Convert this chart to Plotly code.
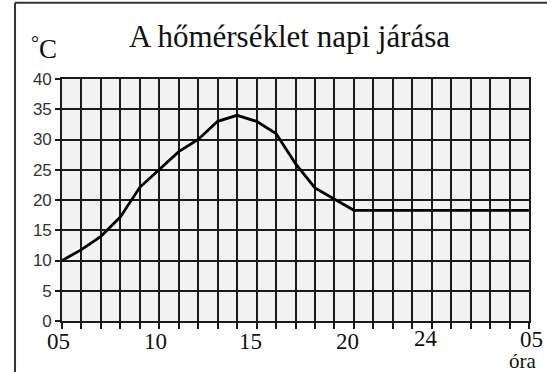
import plotly.graph_objects as go

# hourly temperature, 05 h to 05 h next day
hours = list(range(5, 30))
temps = [10, 11.8, 14, 17.2, 22.1, 25, 28, 30, 33, 34, 33, 31, 26, 22, 20.2,
         18.3, 18.3, 18.3, 18.3, 18.3, 18.3, 18.3, 18.3, 18.3, 18.3]

tick_hours = [5, 10, 15, 20, 24, 29]
tick_labels = ["05", "10", "15", "20", "24", "05"]
y_ticks = [0, 5, 10, 15, 20, 25, 30, 35, 40]

SERIF = "Liberation Serif, Times New Roman, serif"
SANS = "Liberation Sans, Arial, sans-serif"
INK = "#111111"

fig = go.Figure()

fig.add_trace(go.Scatter(
    x=hours,
    y=temps,
    mode="lines",
    line=dict(color="#000000", width=2.8),
    hoverinfo="skip",
))

# x tick labels as annotations (the "24" sits a bit higher)
label_shift = {"05": -4, "10": -4, "15": -6, "20": -6, "24": -6}
for i, (h, lab) in enumerate(zip(tick_hours, tick_labels)):
    last = i == len(tick_hours) - 1
    fig.add_annotation(
        x=h, y=0, xref="x", yref="y",
        text=lab, showarrow=False,
        xanchor="center", yanchor="top",
        xshift=2 if last else label_shift[lab],
        yshift=-4 if lab == "24" else (-5 if last else -7),
        borderpad=0,
        font=dict(family=SERIF, size=23, color=INK),
    )

fig.add_annotation(
    x=1, y=0, xref="paper", yref="paper",
    text="óra", showarrow=False,
    xanchor="center", yanchor="middle",
    xshift=-7, yshift=-40,
    borderpad=0,
    font=dict(family=SERIF, size=21, color=INK),
)

fig.add_annotation(
    x=0.488, y=1, xref="paper", yref="paper",
    text="A hőmérséklet napi járása", showarrow=False,
    xanchor="center", yanchor="middle", yshift=43,
    font=dict(family=SERIF, size=31, color=INK),
)

# unit label: small raised degree sign, then C
fig.add_annotation(
    x=0, y=1, xref="paper", yref="paper",
    text="C", showarrow=False,
    xanchor="center", yanchor="middle", xshift=-14, yshift=30,
    font=dict(family=SERIF, size=27, color=INK),
)
fig.add_annotation(
    x=0, y=1, xref="paper", yref="paper",
    text="°", showarrow=False,
    xanchor="center", yanchor="middle", xshift=-27, yshift=36,
    font=dict(family=SERIF, size=20, color=INK),
)

# outer frame (only top and left edges visible)
fig.add_shape(type="line", xref="paper", yref="paper",
              x0=-0.1006, x1=1.05, y0=1.315, y1=1.315,
              line=dict(color="#333333", width=2))
fig.add_shape(type="line", xref="paper", yref="paper",
              x0=-0.1006, x1=-0.1006, y0=1.315, y1=-0.3,
              line=dict(color="#333333", width=2))

fig.update_xaxes(
    range=[5, 29],
    dtick=1,
    tick0=5,
    showgrid=True,
    gridcolor="#1a1a1a",
    gridwidth=1.6,
    showline=True,
    linecolor="#1a1a1a",
    linewidth=1.6,
    mirror=True,
    ticks="outside",
    ticklen=6,
    tickcolor="#1a1a1a",
    tickwidth=1.6,
    showticklabels=False,
    zeroline=False,
    fixedrange=True,
)

fig.update_yaxes(
    range=[0, 40],
    tickvals=y_ticks,
    showgrid=True,
    gridcolor="#1a1a1a",
    gridwidth=1.6,
    showline=True,
    linecolor="#1a1a1a",
    linewidth=1.6,
    mirror=True,
    ticks="outside",
    ticklen=5,
    tickcolor="#1a1a1a",
    tickwidth=1.6,
    tickfont=dict(family=SANS, size=17, color="#333333"),
    zeroline=False,
    fixedrange=True,
)

fig.update_layout(
    width=547,
    height=372,
    margin=dict(l=62, r=18, t=79, b=51),
    paper_bgcolor="white",
    plot_bgcolor="#f2f2f2",
    showlegend=False,
)

# drop the page's default body margin so the figure sits at the window corner
fig.write_html(
    "out.html",
    config={"displayModeBar": False},
    post_script="document.body.style.margin = '0';",
)
